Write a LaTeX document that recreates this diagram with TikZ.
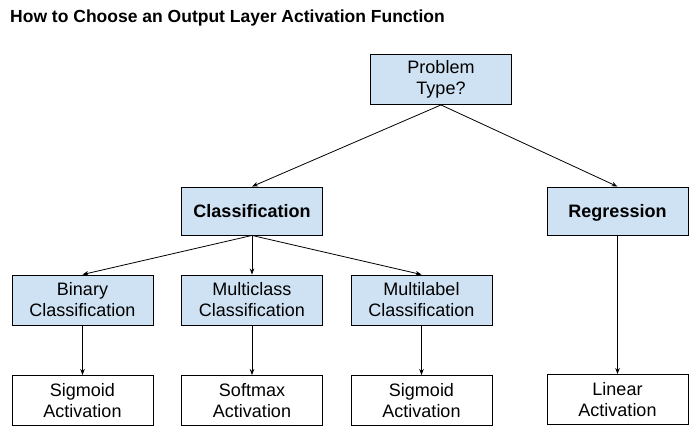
\documentclass[tikz,border=0pt]{standalone}
\usepackage{fontspec}
\setmainfont{Liberation Sans}
\usetikzlibrary{arrows.meta}
\definecolor{boxblue}{HTML}{CFE2F3}
\tikzset{
  box/.style={draw=black, line width=0.9pt, minimum width=141pt, minimum height=50pt, inner sep=0pt, align=center, font=\fontsize{18}{21}\selectfont},
  bluebox/.style={box, fill=boxblue},
  whitebox/.style={box, fill=white},
  headbox/.style={bluebox, minimum height=48pt, text height=14pt, text depth=2pt, font=\bfseries\fontsize{18}{21}\selectfont},
  conn/.style={draw=black, line width=0.8pt, -{Stealth[length=6pt,width=4.5pt]}}
}
\begin{document}
\begin{tikzpicture}[x=1pt,y=-1pt]
\useasboundingbox (0,0) rectangle (694,431);
\node[anchor=base west, font=\bfseries\fontsize{17.5}{20}\selectfont, inner sep=0pt] (title) at (10,23) {How to Choose an Output Layer Activation Function};
\node[bluebox] (prob) at (441,79.5) {Problem\\Type?};
\node[headbox] (cls) at (252,211) {Classification};
\node[headbox] (reg) at (617.5,211) {Regression};
\node[bluebox] (bin) at (82.5,300) {Binary\\Classification};
\node[bluebox] (mc) at (252,300) {Multiclass\\Classification};
\node[bluebox] (ml) at (421.5,300) {Multilabel\\Classification};
\node[whitebox] (sig1) at (82.5,400.5) {Sigmoid\\Activation};
\node[whitebox] (soft) at (252,400.5) {Softmax\\Activation};
\node[whitebox] (sig2) at (421.5,400.5) {Sigmoid\\Activation};
\node[whitebox] (lin) at (617.5,399.5) {Linear\\Activation};
\draw[conn] (prob.south) -- (cls.north);
\draw[conn] (prob.south) -- (reg.north);
\draw[conn] (cls.south) -- (bin.north);
\draw[conn] (cls.south) -- (mc.north);
\draw[conn] (cls.south) -- (ml.north);
\draw[conn] (bin.south) -- (sig1.north);
\draw[conn] (mc.south) -- (soft.north);
\draw[conn] (ml.south) -- (sig2.north);
\draw[conn] (reg.south) -- (lin.north);
\end{tikzpicture}
\end{document}
